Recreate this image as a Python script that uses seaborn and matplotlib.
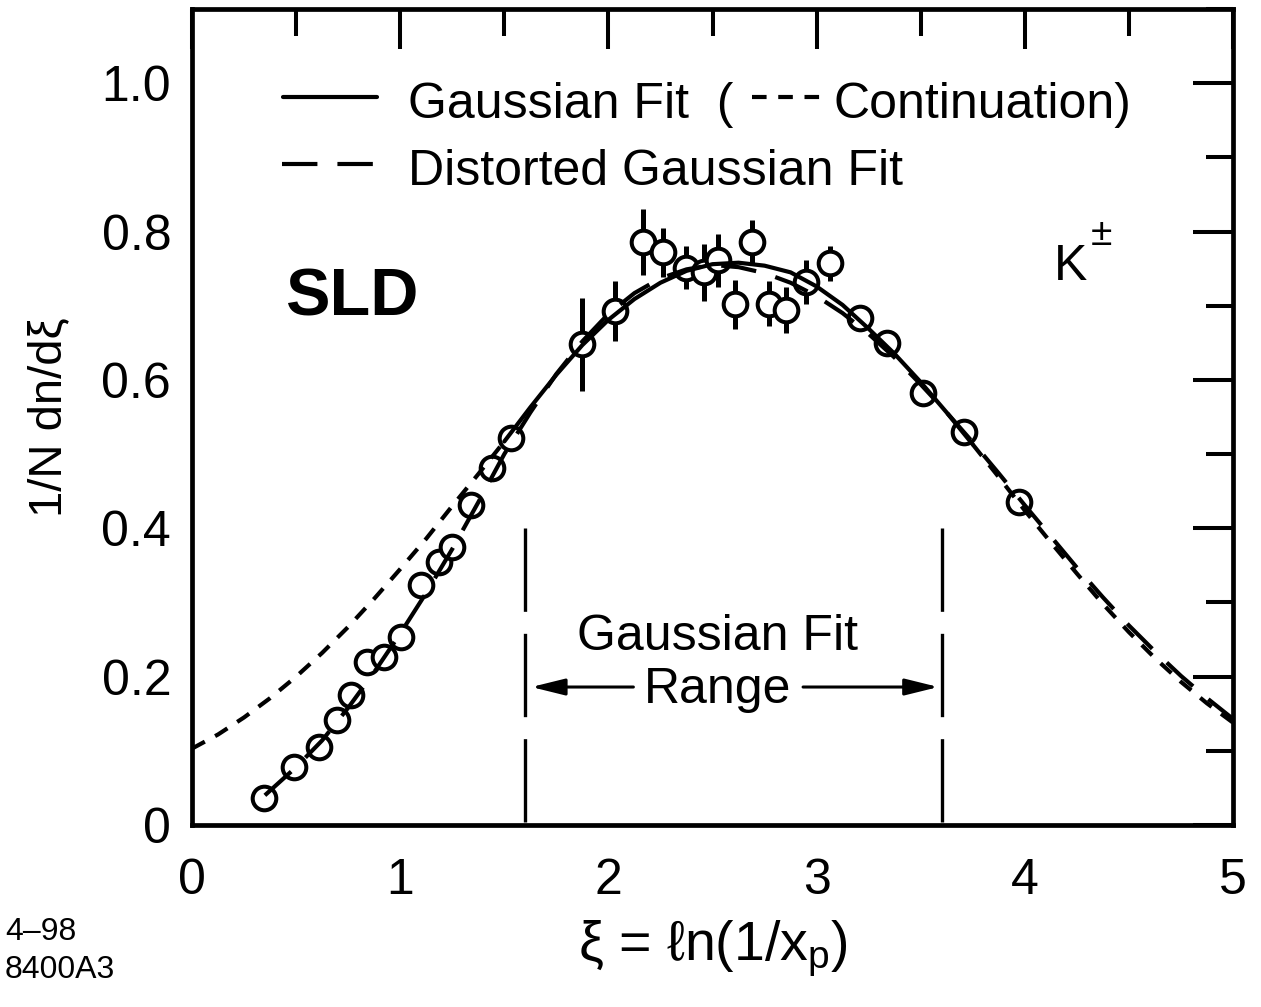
import numpy as np
import pandas as pd
import matplotlib
matplotlib.use("Agg")
import matplotlib.pyplot as plt
import seaborn as sns
from matplotlib.ticker import MultipleLocator, FixedLocator, FixedFormatter

# ---------------- data ----------------
xi_pts = [0.345, 0.49, 0.61, 0.695, 0.765, 0.84, 0.92, 1.005, 1.10, 1.185, 1.25, 1.34, 1.44, 1.53,
          1.875, 2.03, 2.165, 2.26, 2.375, 2.46, 2.525, 2.61, 2.69, 2.77, 2.855, 2.95, 3.065,
          3.21, 3.34, 3.51, 3.71, 3.97]
dn_pts = [0.036, 0.078, 0.105, 0.142, 0.175, 0.220, 0.226, 0.253, 0.323, 0.354, 0.375, 0.431, 0.481, 0.522,
          0.648, 0.693, 0.786, 0.772, 0.751, 0.745, 0.761, 0.702, 0.786, 0.703, 0.694, 0.732, 0.757,
          0.683, 0.650, 0.582, 0.530, 0.435]
err_pts = [0.0, 0.0, 0.0, 0.0, 0.0, 0.0, 0.0, 0.0, 0.0, 0.0, 0.0, 0.0, 0.0, 0.0,
           0.063, 0.040, 0.045, 0.033, 0.029, 0.038, 0.036, 0.033, 0.030, 0.031, 0.031, 0.029, 0.023,
           0.0, 0.0, 0.0, 0.0, 0.0]

# Gaussian fit curve
gauss_x = [0.0, 0.125, 0.25, 0.375, 0.5, 0.625, 0.75, 0.875, 1.0, 1.125, 1.25, 1.375, 1.5, 1.625,
           1.75, 1.875, 2.0, 2.125, 2.25, 2.375, 2.5, 2.625, 2.75, 2.875, 3.0, 3.125, 3.25, 3.375,
           3.5, 3.625, 3.75, 3.875, 4.0, 4.125, 4.25, 4.375, 4.5, 4.625, 4.75, 4.875, 5.0]
gauss_y = [0.103, 0.122, 0.145, 0.171, 0.200, 0.232, 0.267, 0.305, 0.345, 0.386, 0.430, 0.473, 0.517, 0.563,
           0.607, 0.647, 0.681, 0.709, 0.731, 0.747, 0.756, 0.758, 0.754, 0.745, 0.726, 0.701, 0.669, 0.635,
           0.597, 0.556, 0.513, 0.469, 0.424, 0.381, 0.339, 0.298, 0.260, 0.225, 0.193, 0.164, 0.138]
solid_range = (1.5, 3.75)

# Distorted Gaussian fit curve
dist_x = [0.35, 0.5, 0.625, 0.75, 0.875, 1.0, 1.125, 1.25, 1.375, 1.5, 1.625, 1.75, 1.875, 2.0,
          2.125, 2.25, 2.375, 2.5, 2.625, 2.75, 2.875, 3.0, 3.125, 3.25, 3.375, 3.5, 3.625, 3.75,
          3.875, 4.0, 4.125, 4.25, 4.375, 4.5, 4.625, 4.75, 4.875, 5.0]
dist_y = [0.040, 0.078, 0.114, 0.158, 0.206, 0.258, 0.313, 0.372, 0.435, 0.500, 0.556, 0.608, 0.652, 0.689,
          0.717, 0.737, 0.749, 0.755, 0.752, 0.744, 0.731, 0.713, 0.690, 0.662, 0.630, 0.594, 0.556, 0.516,
          0.474, 0.431, 0.389, 0.347, 0.307, 0.269, 0.234, 0.201, 0.171, 0.143]

fit_range = (1.6, 3.6)
fit_line_top = 0.40

x_ticks = [0, 1, 2, 3, 4, 5]
x_ticklabels = ["0", "1", "2", "3", "4", "5"]
y_ticks = [0.0, 0.2, 0.4, 0.6, 0.8, 1.0]
y_ticklabels = ["0", "0.2", "0.4", "0.6", "0.8", "1.0"]

# ---------------- style ----------------
sns.set_theme(style="white")
plt.rcParams["font.family"] = ["Liberation Sans", "DejaVu Sans"]
plt.rcParams["mathtext.fontset"] = "custom"
plt.rcParams["mathtext.rm"] = "Liberation Sans"
plt.rcParams["mathtext.it"] = "Liberation Sans"
for key in ["text.color", "axes.labelcolor", "xtick.color", "ytick.color", "axes.edgecolor"]:
    plt.rcParams[key] = "black"

W, H = 1261, 1007
fig = plt.figure(figsize=(W / 100, H / 100), dpi=100)
fig.patch.set_facecolor("white")
L, R, B, T = 192, 1233, 825, 9
ax = fig.add_axes([L / W, 1 - B / H, (R - L) / W, (B - T) / H])
ax.set_facecolor("white")

LW = 3.0
dotted = (0, (3.5, 2.8))
dashed = (0, (8.5, 4.8))

df_g = pd.DataFrame({"xi": gauss_x, "y": gauss_y})
df_d = pd.DataFrame({"xi": dist_x, "y": dist_y})
inside = df_g[(df_g.xi >= solid_range[0]) & (df_g.xi <= solid_range[1])]
left = df_g[df_g.xi <= solid_range[0]]
right = df_g[df_g.xi >= solid_range[1]]

sns.lineplot(data=inside, x="xi", y="y", color="black", lw=LW, ax=ax, zorder=4)
for part in (left, right):
    sns.lineplot(data=part, x="xi", y="y", color="black", lw=LW, linestyle=dotted, ax=ax, zorder=4)
sns.lineplot(data=df_d, x="xi", y="y", color="black", lw=LW, linestyle=dashed, ax=ax, zorder=4)

# error bars and points
ax.errorbar(xi_pts, dn_pts, yerr=err_pts, fmt="none", ecolor="black", elinewidth=3.6,
            capsize=0, zorder=2)
sns.scatterplot(x=xi_pts, y=dn_pts, marker="o", s=17 ** 2, color="white", edgecolor="black",
                linewidth=2.9, zorder=3, ax=ax)

# fit range lines
for xv in fit_range:
    ax.plot([xv, xv], [fit_line_top, 0], color="black", lw=2.4, linestyle=(0, (25, 6.6)), zorder=2)

# arrows
arrow_kw = dict(arrowstyle="-|>,head_length=1.7,head_width=0.42", color="black", lw=2.2,
                shrinkA=0, shrinkB=0)
ax.annotate("", xy=(fit_range[0] + 0.03, 0.186), xytext=(2.12, 0.186), arrowprops=arrow_kw)
ax.annotate("", xy=(fit_range[1] - 0.015, 0.186), xytext=(2.935, 0.186), arrowprops=arrow_kw)
ax.text(2.526, 0.236, "Gaussian Fit", fontsize=36, ha="center", va="baseline")
ax.text(2.526, 0.1645, "Range", fontsize=36, ha="center", va="baseline")

# labels in plot
ax.text(0.768, 0.687, "SLD", fontsize=48, fontweight="bold", ha="center", va="baseline")
ax.text(4.222, 0.7345, "K", fontsize=36, ha="center", va="baseline")
ax.text(4.37, 0.795, "±", fontsize=28, ha="center", va="center")

# legend (manual)
def axfx(px):
    return (px - L) / (R - L)

def axfy(py):
    return (B - py) / (B - T)

ax.plot([axfx(283), axfx(377)], [axfy(97), axfy(97)], transform=ax.transAxes, color="black", lw=LW)
ax.plot([axfx(282), axfx(377)], [axfy(164), axfy(164)], transform=ax.transAxes, color="black", lw=LW,
        linestyle=dashed)
ax.plot([axfx(752), axfx(822)], [axfy(97), axfy(97)], transform=ax.transAxes, color="black", lw=LW,
        linestyle=dotted)
ax.text(axfx(408), axfy(118), "Gaussian Fit  (", fontsize=36, ha="left", va="baseline",
        transform=ax.transAxes)
ax.text(axfx(1131), axfy(118), "Continuation)", fontsize=36, ha="right", va="baseline",
        transform=ax.transAxes)
ax.text(axfx(408), axfy(185), "Distorted Gaussian Fit", fontsize=36, ha="left", va="baseline",
        transform=ax.transAxes)

# axes
ax.set_xlim(0, 5)
ax.set_ylim(0, 1.1)
ax.xaxis.set_major_locator(FixedLocator(x_ticks))
ax.xaxis.set_major_formatter(FixedFormatter(x_ticklabels))
ax.xaxis.set_minor_locator(MultipleLocator(0.5))
ax.yaxis.set_major_locator(FixedLocator(y_ticks))
ax.yaxis.set_major_formatter(FixedFormatter(y_ticklabels))
ax.yaxis.set_minor_locator(MultipleLocator(0.1))
ax.tick_params(which="both", direction="in", top=True, right=True, width=2.9, color="black")
ax.tick_params(which="major", length=29, labelsize=36, labelcolor="black")
ax.tick_params(which="minor", length=19.5)
ax.tick_params(axis="x", pad=24)
ax.tick_params(axis="y", pad=15)
for sp in ax.spines.values():
    sp.set_visible(True)
    sp.set_color("black")
    sp.set_linewidth(3.4)

ax.set_ylabel("1/N dn/dξ", fontsize=34, labelpad=22, color="black")
ax.set_xlabel("ξ = ℓn(1/x$_{\\rm p}$)", fontsize=40, labelpad=10, color="black")

fig.text(5 / W, 1 - 940 / H, "4–98", fontsize=23, family=["Liberation Sans Narrow", "Liberation Sans"],
         ha="left", va="baseline", color="black")
fig.text(5 / W, 1 - 978 / H, "8400A3", fontsize=23, family=["Liberation Sans Narrow", "Liberation Sans"],
         ha="left", va="baseline", color="black")

fig.savefig("out.png", dpi=100, facecolor="white")
